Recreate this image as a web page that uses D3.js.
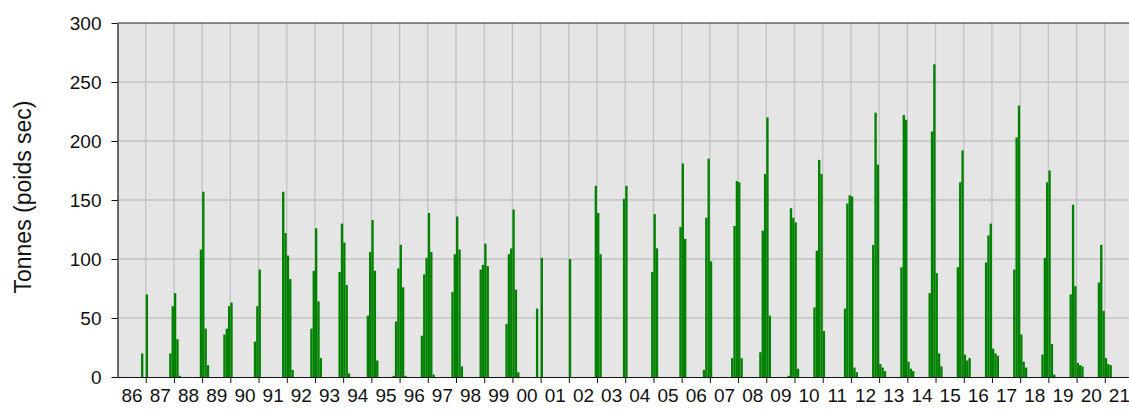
<!DOCTYPE html>
<html>
<head>
<meta charset="utf-8">
<script src="https://cdn.jsdelivr.net/npm/d3@7"></script>
<style>
  body { margin: 0; background: #fff; }
  text { font-family: "Liberation Sans", Arial, sans-serif; }
</style>
</head>
<body>
<div id="chart"></div>
<script>
// monthly landings, one entry per month with catch (year-month)
var mois = [
  "1986-11", "1987-01",
  "1987-11", "1987-12", "1988-01", "1988-02", "1988-03",
  "1988-12", "1989-01", "1989-02", "1989-03",
  "1989-10", "1989-11", "1989-12", "1990-01",
  "1990-11", "1990-12", "1991-01",
  "1991-11", "1991-12", "1992-01", "1992-02", "1992-03",
  "1992-11", "1992-12", "1993-01", "1993-02", "1993-03",
  "1993-11", "1993-12", "1994-01", "1994-02", "1994-03",
  "1994-11", "1994-12", "1995-01", "1995-02", "1995-03",
  "1995-10", "1995-11", "1995-12", "1996-01", "1996-02", "1996-03",
  "1996-10", "1996-11", "1996-12", "1997-01", "1997-02", "1997-03",
  "1997-11", "1997-12", "1998-01", "1998-02", "1998-03",
  "1998-11", "1998-12", "1999-01", "1999-02",
  "1999-10", "1999-11", "1999-12", "2000-01", "2000-02", "2000-03",
  "2000-11", "2001-01",
  "2002-01",
  "2002-12", "2003-01", "2003-02",
  "2003-12", "2004-01",
  "2004-12", "2005-01", "2005-02",
  "2005-12", "2006-01", "2006-02",
  "2006-10", "2006-11", "2006-12", "2007-01",
  "2007-10", "2007-11", "2007-12", "2008-01", "2008-02",
  "2008-10", "2008-11", "2008-12", "2009-01", "2009-02",
  "2009-10", "2009-11", "2009-12", "2010-01", "2010-02",
  "2010-09", "2010-10", "2010-11", "2010-12", "2011-01",
  "2011-10", "2011-11", "2011-12", "2012-01", "2012-02", "2012-03",
  "2012-10", "2012-11", "2012-12", "2013-01", "2013-02", "2013-03",
  "2013-10", "2013-11", "2013-12", "2014-01", "2014-02", "2014-03",
  "2014-10", "2014-11", "2014-12", "2015-01", "2015-02", "2015-03",
  "2015-10", "2015-11", "2015-12", "2016-01", "2016-02", "2016-03",
  "2016-10", "2016-11", "2016-12", "2017-01", "2017-02", "2017-03",
  "2017-10", "2017-11", "2017-12", "2018-01", "2018-02", "2018-03",
  "2018-10", "2018-11", "2018-12", "2019-01", "2019-02", "2019-03",
  "2019-10", "2019-11", "2019-12", "2020-01", "2020-02", "2020-03",
  "2020-10", "2020-11", "2020-12", "2021-01", "2021-02", "2021-03"
];

var tonnes = [
  20, 70,
  20, 60, 71, 32, 1,
  108, 157, 41, 10,
  36, 41, 60, 63,
  30, 60, 91,
  157, 122, 103, 83, 6,
  41, 90, 126, 64, 16,
  89, 130, 114, 78, 3,
  52, 106, 133, 90, 14,
  1, 47, 92, 112, 76, 1,
  35, 87, 101, 139, 106, 2,
  72, 104, 136, 108, 9,
  91, 95, 113, 94,
  45, 104, 109, 142, 74, 4,
  58, 101,
  100,
  162, 139, 104,
  151, 162,
  89, 138, 109,
  127, 181, 117,
  6, 135, 185, 98,
  16, 128, 166, 165, 16,
  21, 124, 172, 220, 52,
  1, 143, 135, 131, 7,
  59, 107, 184, 172, 39,
  58, 147, 154, 153, 8, 4,
  112, 224, 180, 11, 8, 5,
  93, 222, 218, 13, 7, 5,
  71, 208, 265, 88, 20, 9,
  93, 165, 192, 19, 14, 16,
  97, 120, 130, 24, 20, 18,
  91, 203, 230, 36, 13, 8,
  19, 101, 165, 175, 28, 2,
  70, 146, 77, 12, 10, 9,
  80, 112, 56, 16, 11, 10
];

var anneeLabels = ["86","87","88","89","90","91","92","93","94","95","96","97",
  "98","99","00","01","02","03","04","05","06","07","08","09","10","11","12",
  "13","14","15","16","17","18","19","20","21"];
var yTicks = [0, 50, 100, 150, 200, 250, 300];

var W = 1129, H = 413;
var margin = {top: 23, left: 117.5, bottom: 36};
var plotRight = 1133;   // plot runs past the window edge
var plotBottom = H - margin.bottom;

var svg = d3.select("#chart").append("svg")
  .attr("width", W)
  .attr("height", H);

// decimal-year scale, one unit per year
var x = d3.scaleLinear()
  .domain([1986, 2022])
  .range([margin.left, plotRight]);

var y = d3.scaleLinear()
  .domain([0, 300])
  .range([plotBottom, margin.top]);

var data = mois.map(function(m, i) {
  var p = m.split("-");
  return {t: +p[0] + (+p[1] - 1) / 12, v: tonnes[i]};
});

// grey panel
svg.append("rect")
  .attr("x", margin.left)
  .attr("y", margin.top)
  .attr("width", plotRight - margin.left)
  .attr("height", plotBottom - margin.top)
  .attr("fill", "#e5e5e5");

var yearTicks = d3.range(1987, 2022);

// grid
svg.append("g").selectAll("line.v")
  .data(yearTicks).enter().append("line")
  .attr("x1", d => x(d)).attr("x2", d => x(d))
  .attr("y1", margin.top).attr("y2", plotBottom)
  .attr("stroke", "#c2c2c2").attr("stroke-width", 1.3);

svg.append("g").selectAll("line.h")
  .data(yTicks.filter(d => d > 0 && d < 300)).enter().append("line")
  .attr("x1", margin.left).attr("x2", plotRight)
  .attr("y1", d => y(d)).attr("y2", d => y(d))
  .attr("stroke", "#c2c2c2").attr("stroke-width", 1.3);

// bars
svg.append("g").selectAll("rect")
  .data(data).enter().append("rect")
  .attr("x", d => x(d.t))
  .attr("width", d => x(d.t + 1 / 12) - x(d.t))
  .attr("y", d => y(d.v))
  .attr("height", d => y(0) - y(d.v))
  .attr("fill", "#008000");

// top border
svg.append("line")
  .attr("x1", margin.left).attr("x2", plotRight)
  .attr("y1", margin.top).attr("y2", margin.top)
  .attr("stroke", "#222").attr("stroke-width", 1.2);

// x axis: ticks at year ends, labels in the middle of each year
var xAxis = svg.append("g")
  .attr("transform", "translate(0," + plotBottom + ")")
  .call(d3.axisBottom(x).tickValues(yearTicks).tickFormat("").tickSize(6).tickSizeOuter(0));
xAxis.select(".domain").attr("stroke", "#111").attr("stroke-width", 1.2);
xAxis.selectAll(".tick line").attr("stroke", "#111");

var xLab = svg.append("g")
  .attr("transform", "translate(0," + plotBottom + ")")
  .call(d3.axisBottom(x)
    .tickValues(anneeLabels.map((d, i) => 1986.5 + i))
    .tickFormat((d, i) => anneeLabels[i])
    .tickSize(0).tickPadding(12));
xLab.select(".domain").remove();
xLab.selectAll("text")
  .attr("font-size", 19)
  .attr("font-family", "Liberation Sans, Arial, sans-serif")
  .attr("fill", "#111");

// y axis
var yAxis = svg.append("g")
  .attr("transform", "translate(" + margin.left + ",0)")
  .call(d3.axisLeft(y).tickValues(yTicks).tickSize(6).tickPadding(10).tickSizeOuter(0));
yAxis.select(".domain").attr("stroke", "#111").attr("stroke-width", 1.2);
yAxis.selectAll(".tick line").attr("stroke", "#111");
yAxis.selectAll("text")
  .attr("font-size", 19)
  .attr("font-family", "Liberation Sans, Arial, sans-serif")
  .attr("fill", "#111");

// axis title
svg.append("text")
  .attr("transform", "translate(31," + ((margin.top + plotBottom) / 2 - 3) + ") rotate(-90)")
  .attr("text-anchor", "middle")
  .attr("font-size", 23)
  .attr("fill", "#111")
  .text("Tonnes (poids sec)");
</script>
</body>
</html>
